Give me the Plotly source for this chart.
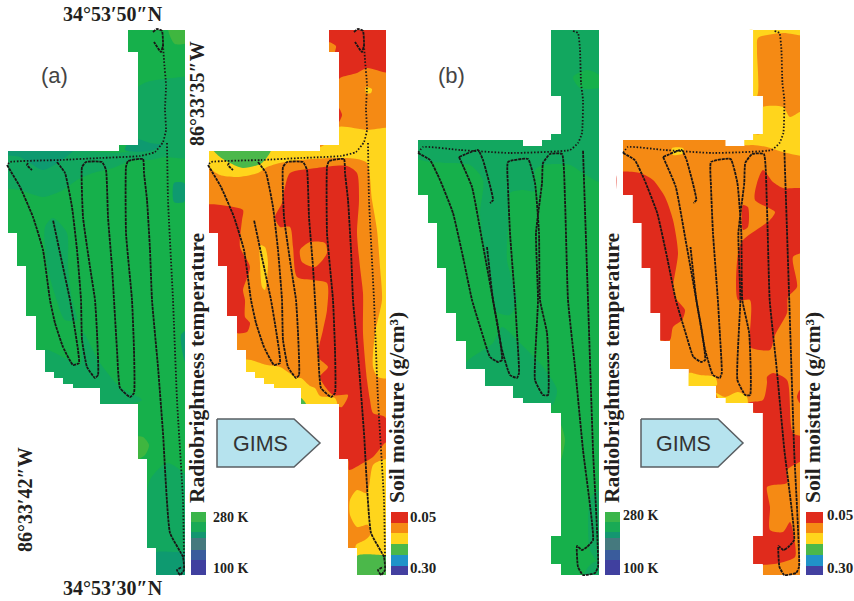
import plotly.graph_objects as go

# ---------- colours ----------
T_BASE, T_TEAL, T_DARK, T_LIME = "#16b04b", "#12a75f", "#0e9a70", "#3fb63f"
RED, ORANGE, YELLOW, GREEN = "#e02b1c", "#f58a14", "#ffd51c", "#4bb84a"
TEMP_KEY_COLORS = ["#3ab54a", "#19aa55", "#149670", "#45797e", "#3a5c9c", "#40409f"]
SOIL_KEY_COLORS = ["#e02b1c", "#f58a14", "#ffd51c", "#4bb84a", "#2093c9", "#4340a0"]
TEMP_KEY_EDGES = [512, 522, 532, 538, 550, 560, 575]
SOIL_KEY_EDGES = [512, 523, 533, 544, 555, 566, 575]

# ---------- map outlines ----------
outline_a = [(128,30),(185,30),(185,575),(156,575),(156,548),(147,548),(147,459),(138,459),(138,404),(100,404),(100,388),(73,388),(73,384),(63,384),(63,378),(54,378),(54,372),(45,372),(45,350),(36,350),(36,316),(26,316),(26,266),(17,266),(17,233),(8,233),(8,151),(119,151),(119,145),(138,145),(138,52),(128,52)]
outline_b = [(551,30),(599,30),(599,575),(561,575),(561,564),(551,564),(551,536),(561,536),(561,413),(551,413),(551,403),(523,403),(523,398),(513,398),(513,386),(485,386),(485,369),(466,369),(466,341),(456,341),(456,313),(446,313),(446,268),(437,268),(437,223),(428,223),(428,195),(418,195),(418,140),(523,140),(523,146),(542,146),(542,140),(551,140),(551,134),(561,134),(561,96),(551,96)]

# ---------- contour regions: (colour, points) ----------
temp_a_regions = [
 (T_LIME, [(168,25),(190,25),(190,42),(175,44),(170,36)]),
 (T_TEAL, [(5,149),(5,187),(20,190),(43,197),(63,190),(77,180),(93,173),(113,168),(133,160),(150,160),(165,157),(190,157),(190,78),(173,78),(147,82),(135,90),(135,149)]),
 (T_DARK, [(5,147),(76,147),(62,160),(43,170),(30,163),(20,157),(5,154)]),
 (T_DARK, [(132,138),(150,143),(163,145),(150,151),(125,150)]),
 (T_DARK, [(174,183),(184,183),(187,192),(184,202),(174,202)]),
 (T_TEAL, [(45,227),(53,218),(67,233),(68,267),(72,300),(77,320),(65,320),(55,295),(47,265)]),
 (T_TEAL, [(45,350),(65,358),(80,365),(83,333),(100,363),(120,387),(142,400),(100,408),(98,392),(70,390),(40,378)]),
 (T_LIME, [(135,437),(143,437),(149,445),(145,455),(135,460)]),
 (T_TEAL, [(145,513),(150,480),(167,463),(190,480),(190,533),(190,555),(155,552),(145,550)]),
 (T_DARK, [(155,553),(173,552),(190,553),(190,578),(155,578)]),
 (T_DARK, [(181,335),(187,330),(187,367),(183,355)]),
]
soil_a_regions = [
 (YELLOW, [(205,147),(205,151),(209,167),(220,175),(237,177),(258,173),(267,167),(280,163),(300,160),(333,158),(357,159),(367,163),(372,200),(377,230),(380,267),(382,300),(375,333),(373,367),(378,377),(396,377),(396,130),(367,130),(338,127),(330,140),(320,147)]),
 (GREEN, [(213,149),(271,149),(262,163),(243,168),(230,163),(220,157)]),
 (RED, [(325,28),(390,28),(390,72),(367,68),(357,73),(340,78),(335,85),(335,52),(336,46),(329,42),(325,42)]),
 (RED, [(338,107),(342,115),(338,123),(335,115)]),
 (YELLOW, [(366,87),(372,89),(371,93),(366,93)]),
 (YELLOW, [(245,360),(267,365),(280,367),(297,378),(301,378),(310,386),(315,388),(320,396),(335,398),(337,406),(300,408),(290,395),(240,392)]),
 (RED, [(275,217),(282,203),(285,187),(290,173),(317,168),(347,166),(357,173),(359,200),(357,233),(360,267),(363,293),(363,333),(367,380),(370,400),(373,413),(385,417),(392,440),(385,443),(373,457),(363,463),(349,470),(348,460),(335,460),(335,407),(342,407),(348,395),(333,395),(320,377),(328,367),(318,357),(323,330),(327,310),(327,283),(313,280),(297,277),(293,247),(290,227),(280,227)]),
 (ORANGE, [(300,250),(310,242),(325,243),(327,253),(315,267),(302,262)]),
 (RED, [(205,206),(227,206),(243,210),(242,220),(240,247),(250,267),(243,290),(245,300),(245,317),(250,323),(247,332),(235,333),(225,325),(205,300)]),
 (YELLOW, [(260,245),(265,247),(268,263),(265,290),(262,287),(260,263)]),
 (GREEN, [(301,398),(306,404),(300,406)]),
 (YELLOW, [(350,500),(357,490),(367,493),(373,465),(382,460),(392,460),(392,560),(357,560),(356,545),(365,540),(370,535),(368,525),(357,527),(350,515)]),
 (GREEN, [(357,556),(380,555),(392,557),(392,580),(355,580)]),
]
temp_b_regions = [
 (T_TEAL, [(415,157),(430,162),(447,163),(470,165),(483,180),(480,213),(482,233),(488,267),(493,300),(497,312),(510,315),(517,300),(513,283),(507,260),(508,227),(510,193),(523,190),(535,191),(535,170),(543,165),(570,165),(583,173),(602,182),(602,25),(545,25),(545,135),(415,135)]),
 (T_BASE, [(573,77),(587,70),(599,75),(601,87),(580,88)]),
 (T_TEAL, [(466,363),(493,343),(502,327),(520,343),(543,367),(557,390),(552,405),(523,405),(490,395),(466,385)]),
 (T_TEAL, [(590,500),(598,490),(601,565),(590,550)]),
 (T_TEAL, [(583,578),(590,565),(601,560),(601,578)]),
 (T_LIME, [(561,425),(565,440),(561,460)]),
]
soil_b_regions = [
 (YELLOW, [(748,96),(748,25),(806,25),(806,35),(783,33),(758,38),(757,50),(757,96)]),
 (YELLOW, [(760,108),(783,107),(790,117),(800,112),(806,112),(806,155),(783,152),(767,147),(753,145),(744,145),(744,140),(753,134),(760,134)]),
 (YELLOW, [(672,148),(683,148),(684,153),(673,155)]),
 (RED, [(618,173),(640,173),(653,180),(665,197),(673,220),(678,253),(673,290),(677,300),(685,310),(682,320),(673,327),(670,340),(660,340),(650,320),(640,310),(625,250),(618,200)]),
 (RED, [(755,200),(757,183),(763,170),(773,182),(783,188),(806,190),(806,250),(793,257),(797,287),(788,297),(787,313),(775,335),(770,350),(750,347),(750,333),(750,300),(738,300),(738,253),(743,240),(770,220),(775,212)]),
 (RED, [(743,205),(748,207),(748,227),(743,230)]),
 (RED, [(767,377),(773,373),(787,380),(793,433),(806,438),(806,457),(787,470),(787,483),(773,485),(767,487),(770,507),(770,530),(783,532),(790,522),(795,543),(795,557),(780,563),(763,565),(748,566),(748,530),(755,530),(755,413),(748,413),(748,403),(763,400),(767,383)]),
 (RED, [(800,390),(797,397),(800,403),(806,397)]),
 (YELLOW, [(689,373),(700,375),(715,377),(717,385),(689,388)]),
 (YELLOW, [(716,393),(725,397),(738,392),(747,397),(747,407),(725,407)]),
]

# ---------- flight tracks ----------
tracks_a_solid = [
 [(153,32),(157,29),(162,31),(163,45),(161,52),(154,42)],
 [(7,165),(20,187),(33,217),(43,250),(50,300),(55,323),(63,347),(73,365),(79,363),(78,350),(75,330),(70,300),(60,253),(53,220)],
 [(28,163),(27,165),(32,170)],
 [(57,162),(65,173),(72,207),(77,250),(81,300),(82,340),(87,367),(95,378),(98,375),(97,333),(95,300),(90,267),(83,217),(82,167),(86,162),(102,162),(106,170),(108,217),(112,267),(114,300),(117,350),(120,388),(130,397),(134,393),(134,350),(132,300),(126,233),(126,167),(128,161),(143,159),(144,173),(147,200),(150,250),(152,300),(158,367),(163,433),(170,533),(183,557),(184,570),(180,575),(177,570),(182,567)],
]
tracks_a_dotted = [
 [(163,45),(164,60),(166,85),(165,110),(166,130),(163,142),(155,152),(140,156),(100,158),(60,160),(10,162),(7,165)],
 [(167,143),(168,200),(173,300),(177,400),(183,500),(184,557)],
]
tracks_b_solid = [
 [(418,153),(430,160),(440,180),(453,213),(463,257),(472,300),(482,333),(490,357),(498,362),(502,360),(498,327),(493,300),(487,247)],
 [(459,157),(478,150),(483,160),(493,200),(490,203)],
 [(459,157),(472,187),(482,240),(493,300),(502,350),(510,375),(517,378),(519,373),(517,333),(515,300),(510,233),(508,187),(508,162),(528,159),(535,183),(539,233),(540,300),(547,333),(548,395),(543,395),(535,380),(538,300),(536,233),(542,183),(543,163),(550,154),(562,154),(565,200),(568,300),(575,367),(583,450),(593,540),(587,547),(582,550),(577,546),(578,567),(583,575),(595,573),(598,567),(593,450),(588,300),(583,150)],
]
tracks_b_dotted = [
 [(573,31),(578,33),(580,50),(581,83),(583,100),(582,133),(578,143),(570,150),(510,153),(460,150),(423,147),(418,153)],
]

TEMP_LABEL, SOIL_LABEL = "Radiobrightness temperature", "Soil moisture (g/cm³)"
GIMS_A = [(217,419),(294,419),(320,443),(294,467),(217,467)]
GIMS_B = [(641,419),(718,419),(743,443),(718,467),(641,467)]

shift_a = lambda p: (p[0] + 201, p[1])
shift_b = lambda p: (623 + (p[0] - 418) * 177 / 181, p[1])

fig = go.Figure()

def poly(pts, color, smooth=False, line=None, lw=0):
    xs = [p[0] for p in pts] + [pts[0][0]]
    ys = [p[1] for p in pts] + [pts[0][1]]
    fig.add_trace(go.Scatter(x=xs, y=ys, mode="lines", fill="toself", fillcolor=color,
        line=dict(color=line or color, width=lw, shape="spline" if smooth else "linear", smoothing=0.7),
        hoverinfo="skip", showlegend=False))

def track(pts, dash, width):
    fig.add_trace(go.Scatter(x=[p[0] for p in pts], y=[p[1] for p in pts], mode="lines",
        line=dict(color="#1a1616", width=width, dash=dash, shape="spline", smoothing=0.4),
        hoverinfo="skip", showlegend=False))

def panel(outline, base, regions, box, solid, dotted):
    poly(outline, base)
    for color, pts in regions:
        poly(pts, color, smooth=True)
    # white mask: keeps contour regions inside the stepped map edge
    x0, x1, y0, y1 = box
    ring = [(x0, y0), (x0, y1), (x1, y1), (x1, y0), (x0, y0)]
    poly(outline + [outline[0]] + ring, "#ffffff")
    for t in solid:
        track(t, "3px,0.8px", 1.8)
    for t in dotted:
        track(t, "1.5px,1.8px", 1.8)

panel(outline_a, T_BASE, temp_a_regions, (-2, 200, -5, 600), tracks_a_solid, tracks_a_dotted)
panel([shift_a(p) for p in outline_a], ORANGE, soil_a_regions, (200, 412, -5, 600),
      [[shift_a(p) for p in t] for t in tracks_a_solid], [[shift_a(p) for p in t] for t in tracks_a_dotted])
panel(outline_b, T_BASE, temp_b_regions, (412, 617, -5, 600), tracks_b_solid, tracks_b_dotted)
panel([shift_b(p) for p in outline_b], ORANGE, soil_b_regions, (617, 856, -5, 600),
      [[shift_b(p) for p in t] for t in tracks_b_solid], [[shift_b(p) for p in t] for t in tracks_b_dotted])

# colour keys
for x0, x1, colors, edges in [(191, 206, TEMP_KEY_COLORS, TEMP_KEY_EDGES), (391, 408, SOIL_KEY_COLORS, SOIL_KEY_EDGES),
                              (605, 620, TEMP_KEY_COLORS, TEMP_KEY_EDGES), (806, 823, SOIL_KEY_COLORS, SOIL_KEY_EDGES)]:
    for c, a, b in zip(colors, edges[:-1], edges[1:]):
        poly([(x0, a), (x1, a), (x1, b), (x0, b)], c)

poly(GIMS_A, "#b6e3ee", line="#5a5f63", lw=1.5)
poly(GIMS_B, "#b6e3ee", line="#5a5f63", lw=1.5)

SERIF = "Liberation Serif"
SANS = "Liberation Sans"
def txt(x, y, s, size, font=SERIF, bold=True, angle=0, color="#231f20"):
    fig.add_annotation(x=x, y=y, xref="x", yref="y", text=f"<b>{s}</b>" if bold else s, showarrow=False,
                       textangle=angle, font=dict(family=font, size=size, color=color),
                       xanchor="center", yanchor="middle")

txt(113, 14, "34°53′50″N", 20)
txt(113, 588, "34°53′30″N", 20)
txt(197, 94, "86°33′35″W", 20, angle=-90)
txt(25, 500, "86°33′42″W", 20, angle=-90)
txt(54, 75, "(a)", 22, SANS, False, color="#444444")
txt(451, 75, "(b)", 22, SANS, False, color="#444444")
txt(197, 368, TEMP_LABEL, 21.5, angle=-90)
txt(612, 368, TEMP_LABEL, 21.5, angle=-90)
txt(397, 408, SOIL_LABEL, 21.5, angle=-90)
txt(813, 408, SOIL_LABEL, 21.5, angle=-90)
txt(231, 517, "280 K", 14)
txt(231, 568, "100 K", 14)
txt(423, 517, "0.05", 15)
txt(423, 568, "0.30", 15)
txt(641, 515, "280 K", 14)
txt(641, 568, "100 K", 14)
txt(840, 515, "0.05", 15)
txt(840, 568, "0.30", 15)
txt(260, 444, "GIMS", 21.5, SANS, False, color="#333333")
txt(683, 444, "GIMS", 21.5, SANS, False, color="#333333")

fig.update_layout(width=854, height=601, autosize=False, margin=dict(l=0, r=0, t=0, b=0),
                  paper_bgcolor="white", plot_bgcolor="white", showlegend=False,
                  xaxis=dict(range=[0, 854], visible=False, fixedrange=True),
                  yaxis=dict(range=[601, 0], visible=False, fixedrange=True))
fig.write_html("out.html", config={"displayModeBar": False},
               post_script="document.body.style.margin='0';")
